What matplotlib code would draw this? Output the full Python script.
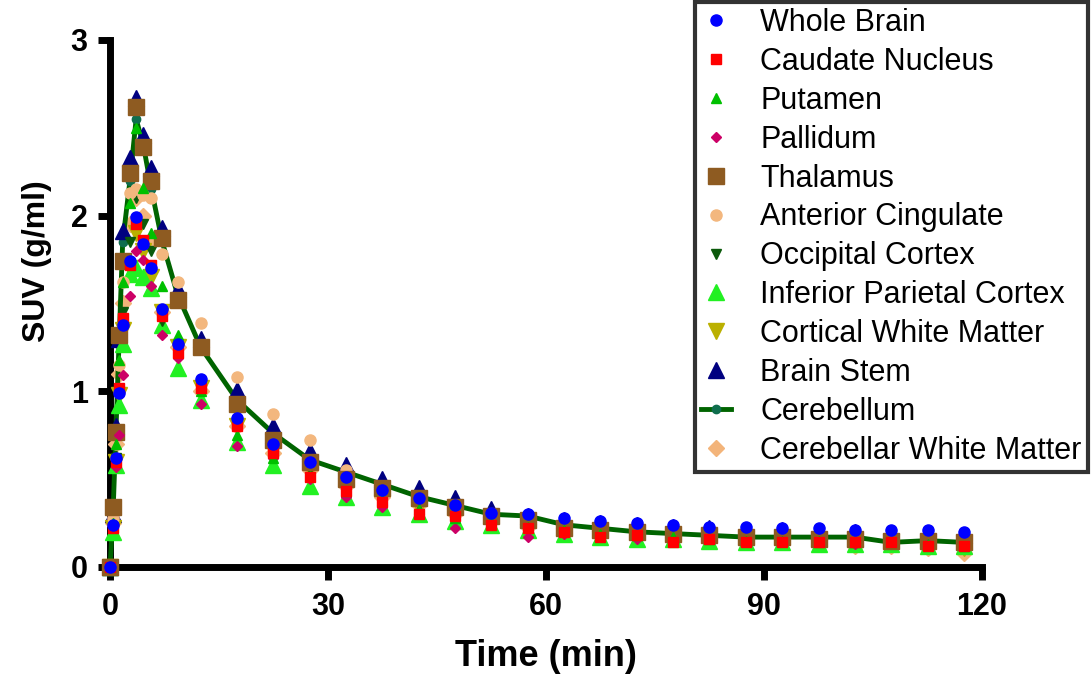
"""SUV time-activity curves by brain region."""
import matplotlib
matplotlib.use("Agg")
import matplotlib.pyplot as plt

plt.rcParams["font.family"] = ["Liberation Sans", "DejaVu Sans"]

OUT = "out.png"

time_min = [0, 0.4, 0.8, 1.25, 1.75, 2.75, 3.6, 4.6, 5.7, 7.2, 9.3, 12.5,
            17.5, 22.5, 27.5, 32.5, 37.5, 42.5, 47.5, 52.5, 57.5, 62.5, 67.5,
            72.5, 77.5, 82.5, 87.5, 92.5, 97.5, 102.5, 107.5, 112.5, 117.5]

whole_brain = [0, 0.24, 0.62, 0.99, 1.38, 1.74, 1.99, 1.84, 1.70, 1.47, 1.27, 1.07,
               0.85, 0.70, 0.60, 0.51, 0.44, 0.39, 0.35, 0.31, 0.30, 0.28, 0.26,
               0.25, 0.24, 0.23, 0.23, 0.22, 0.22, 0.21, 0.21, 0.21, 0.20]
caudate = [0, 0.22, 0.60, 1.02, 1.42, 1.72, 1.95, 1.86, 1.72, 1.43, 1.22, 1.02,
           0.80, 0.65, 0.51, 0.43, 0.37, 0.30, 0.29, 0.24, 0.22, 0.20, 0.17,
           0.18, 0.14, 0.16, 0.14, 0.14, 0.14, 0.14, 0.14, 0.12, 0.12]
putamen = [0, 0.25, 0.70, 1.18, 1.62, 2.07, 2.50, 2.16, 1.90, 1.60, 1.32, 1.00,
           0.75, 0.62, 0.52, 0.43, 0.38, 0.33, 0.28, 0.26, 0.23, 0.21, 0.19,
           0.18, 0.17, 0.16, 0.15, 0.15, 0.15, 0.14, 0.14, 0.13, 0.12]
pallidum = [0, 0.22, 0.57, 0.75, 1.09, 1.54, 1.80, 1.75, 1.60, 1.32, 1.19, 0.93,
            0.69, 0.62, 0.50, 0.40, 0.34, 0.30, 0.22, 0.24, 0.17, 0.19, 0.17,
            0.16, 0.15, 0.16, 0.14, 0.15, 0.14, 0.13, 0.15, 0.13, 0.12]
thalamus = [0, 0.34, 0.77, 1.32, 1.74, 2.24, 2.62, 2.39, 2.20, 1.87, 1.52, 1.25,
            0.93, 0.72, 0.60, 0.50, 0.45, 0.39, 0.34, 0.29, 0.27, 0.22, 0.21,
            0.20, 0.19, 0.18, 0.17, 0.17, 0.16, 0.16, 0.15, 0.15, 0.14]
ant_cingulate = [0, 0.28, 0.70, 1.15, 1.62, 2.13, 2.15, 2.12, 2.10, 1.78, 1.62, 1.39,
                 1.08, 0.87, 0.72, 0.55, 0.46, 0.40, 0.35, 0.30, 0.27, 0.23, 0.21,
                 0.20, 0.19, 0.18, 0.17, 0.17, 0.16, 0.16, 0.15, 0.14, 0.13]
occipital = [0, 0.22, 0.62, 1.00, 1.45, 1.85, 2.10, 1.95, 1.80, 1.40, 1.25, 1.02,
             0.80, 0.66, 0.56, 0.47, 0.40, 0.35, 0.31, 0.27, 0.25, 0.22, 0.20,
             0.19, 0.18, 0.17, 0.16, 0.16, 0.16, 0.15, 0.15, 0.14, 0.13]
inf_parietal = [0, 0.20, 0.58, 0.92, 1.27, 1.67, 1.70, 1.65, 1.59, 1.38, 1.13, 0.95,
                0.71, 0.58, 0.46, 0.40, 0.34, 0.30, 0.26, 0.24, 0.21, 0.19, 0.17,
                0.16, 0.16, 0.15, 0.14, 0.14, 0.13, 0.13, 0.13, 0.12, 0.12]
cortical_wm = [0, 0.22, 0.60, 0.98, 1.35, 1.70, 1.90, 1.80, 1.65, 1.45, 1.25, 1.02,
               0.80, 0.66, 0.56, 0.46, 0.40, 0.34, 0.30, 0.27, 0.24, 0.21, 0.20,
               0.18, 0.17, 0.17, 0.16, 0.15, 0.15, 0.14, 0.14, 0.13, 0.11]
brain_stem = [0, 0.30, 0.80, 1.30, 1.91, 2.33, 2.67, 2.46, 2.27, 1.93, 1.58, 1.30,
              1.01, 0.80, 0.66, 0.58, 0.50, 0.45, 0.39, 0.33, 0.29, 0.27, 0.25,
              0.24, 0.23, 0.22, 0.21, 0.21, 0.20, 0.20, 0.19, 0.19, 0.18]
cerebellum = [0, 0.28, 0.75, 1.28, 1.85, 2.20, 2.55, 2.40, 2.15, 1.85, 1.55, 1.25,
              0.95, 0.76, 0.61, 0.54, 0.47, 0.40, 0.35, 0.30, 0.29, 0.24, 0.22,
              0.20, 0.19, 0.18, 0.17, 0.17, 0.17, 0.17, 0.14, 0.15, 0.14]
cerebellar_wm = [0, 0.25, 0.70, 1.10, 1.50, 1.95, 2.10, 2.00, 1.85, 1.45, 1.25, 1.00,
                 0.80, 0.65, 0.55, 0.46, 0.40, 0.35, 0.30, 0.26, 0.23, 0.20, 0.18,
                 0.17, 0.16, 0.15, 0.14, 0.14, 0.13, 0.12, 0.12, 0.11, 0.08]

# label, values, marker, colour, marker size
series = [
    ("Whole Brain", whole_brain, "o", "#0000ff", 8),
    ("Caudate Nucleus", caudate, "s", "#ff0000", 7.5),
    ("Putamen", putamen, "^", "#00c000", 6.5),
    ("Pallidum", pallidum, "D", "#cc0066", 5),
    ("Thalamus", thalamus, "s", "#8e5b21", 11),
    ("Anterior Cingulate", ant_cingulate, "o", "#f3b77e", 8),
    ("Occipital Cortex", occipital, "v", "#0b5a0b", 6.5),
    ("Inferior Parietal Cortex", inf_parietal, "^", "#22f022", 11),
    ("Cortical White Matter", cortical_wm, "v", "#bbb000", 11),
    ("Brain Stem", brain_stem, "^", "#000080", 11),
    ("Cerebellum", cerebellum, "o", "#0f6e4e", 6),
    ("Cerebellar White Matter", cerebellar_wm, "D", "#f3b47a", 8.5),
]

fig = plt.figure(figsize=(10.91, 6.74), dpi=100)
ax = fig.add_axes([0.1008, 0.1588, 0.7993, 0.7819])

handles = []
n = len(series)
for i, (label, vals, mk, col, ms) in enumerate(series):
    z = 10 + (n - i)
    if label == "Cerebellum":
        h, = ax.plot(time_min, vals, "-", color="#006400", lw=3.5,
                     marker=mk, ms=ms, mfc=col, mec=col, label=label,
                     zorder=z, clip_on=False)
    else:
        h, = ax.plot(time_min, vals, ls="none", marker=mk, ms=ms, mfc=col,
                     mec=col, label=label, zorder=z, clip_on=False)
    handles.append(h)

ax.set_xlim(0, 120)
ax.set_ylim(0, 3)
ax.set_xticks([0, 30, 60, 90, 120])
ax.set_yticks([0, 1, 2, 3])
for s in ["top", "right"]:
    ax.spines[s].set_visible(False)
for s in ["left", "bottom"]:
    ax.spines[s].set_linewidth(5)
ax.tick_params(width=5, length=9, labelsize=22, pad=7)
ax.tick_params(axis="x", pad=9)
for t in ax.get_xticklabels() + ax.get_yticklabels():
    t.set_fontweight("bold")
ax.set_xlabel("Time (min)", fontsize=26, fontweight="bold", labelpad=12)
ax.set_ylabel("SUV (g/ml)", fontsize=23, fontweight="bold")
ax.yaxis.set_label_coords(-0.066, 0.58)

leg = ax.legend(handles=handles, loc="upper right",
                bbox_to_anchor=(0.997, 0.997), bbox_transform=fig.transFigure,
                fontsize=22, frameon=True, fancybox=False, borderpad=0.2,
                labelspacing=0.29, handletextpad=0.95, handlelength=1.0,
                borderaxespad=0)
leg.get_frame().set_edgecolor("black")
leg.get_frame().set_linewidth(3)
leg.set_zorder(30)

plt.savefig(OUT, dpi=100)
print(f"Saved: {OUT}")
